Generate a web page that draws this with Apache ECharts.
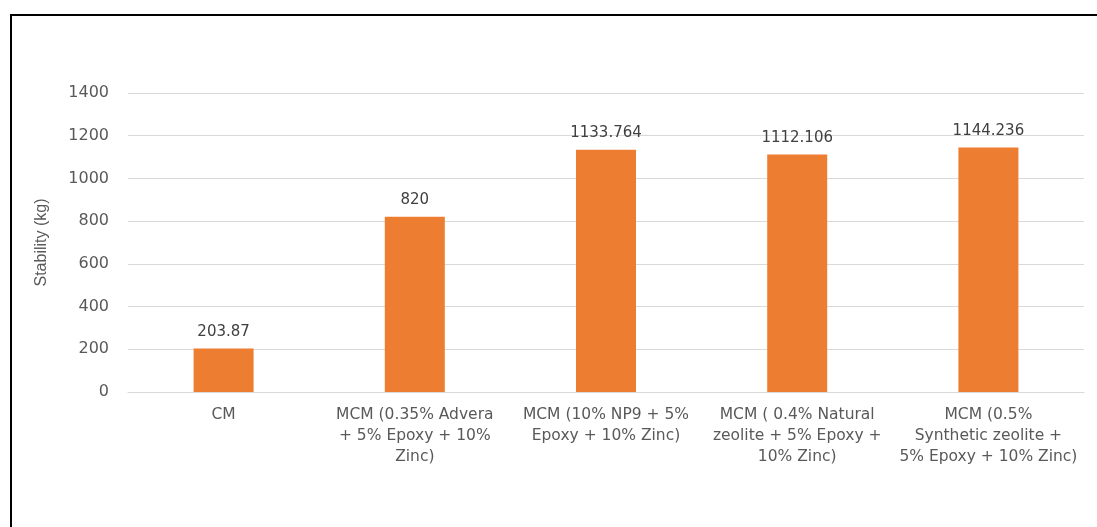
<!DOCTYPE html>
<html>
<head>
<meta charset="utf-8">
<script src="https://cdn.jsdelivr.net/npm/echarts@6/dist/echarts.min.js"></script>
<style>
  html, body { margin: 0; padding: 0; background: #fff; }
  #chart { width: 1097px; height: 527px; }
</style>
</head>
<body>
<div id="chart"></div>
<script>
// Mix designs along the x axis
const categories = [
  'CM',
  'MCM (0.35% Advera\n+ 5% Epoxy + 10%\nZinc)',
  'MCM (10% NP9 + 5%\nEpoxy + 10% Zinc)',
  'MCM ( 0.4% Natural\nzeolite + 5% Epoxy +\n10% Zinc)',
  'MCM (0.5%\nSynthetic zeolite +\n5% Epoxy + 10% Zinc)'
];
// Marshall stability of each mix, in kg
const stability = [203.87, 820, 1133.764, 1112.106, 1144.236];
const yTicks = [0, 200, 400, 600, 800, 1000, 1200, 1400];

const chart = echarts.init(document.getElementById('chart'));
const textColor = '#595959';
const font = 'DejaVu Sans';

chart.setOption({
  backgroundColor: '#ffffff',
  animation: false,
  graphic: [{
    type: 'rect',
    shape: { x: 11, y: 15, width: 1200, height: 600 },
    style: { fill: 'none', stroke: '#000', lineWidth: 2 },
    silent: true
  }],
  grid: { left: 128, right: 13, top: 93, bottom: 135 },
  xAxis: {
    type: 'category',
    data: categories,
    axisLine: { lineStyle: { color: '#D9D9D9', width: 1 } },
    axisTick: { show: false },
    axisLabel: {
      color: textColor, fontFamily: font, fontSize: 15.5,
      lineHeight: 21, margin: 12, interval: 0
    }
  },
  yAxis: {
    type: 'value',
    min: yTicks[0],
    max: yTicks[yTicks.length - 1],
    interval: 200,
    name: 'Stability (kg)',
    nameLocation: 'middle',
    nameGap: 78,
    nameTextStyle: { color: textColor, fontFamily: 'Liberation Sans', fontSize: 16 },
    axisLine: { show: false },
    axisTick: { show: false },
    splitLine: { lineStyle: { color: '#D9D9D9', width: 1 } },
    axisLabel: {
      color: textColor, fontFamily: font, fontSize: 16, margin: 19,
      formatter: v => String(v)
    }
  },
  series: [{
    type: 'bar',
    data: stability,
    barWidth: 60,
    itemStyle: { color: '#ED7D31' },
    label: {
      show: true,
      position: 'top',
      distance: 9,
      color: '#404040',
      fontFamily: font,
      fontSize: 15,
      formatter: p => String(p.value)
    }
  }]
});
</script>
</body>
</html>
